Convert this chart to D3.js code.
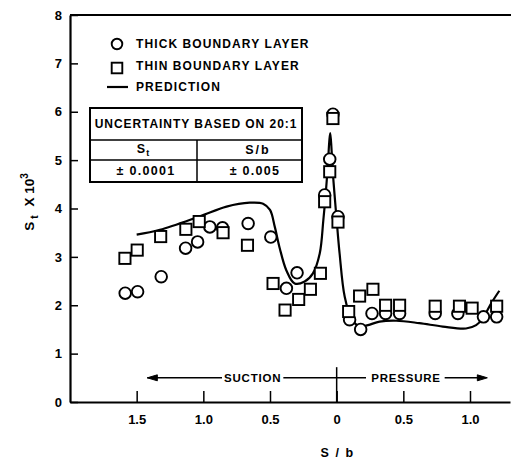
<!DOCTYPE html>
<html>
<head>
<meta charset="utf-8">
<script src="https://cdn.jsdelivr.net/npm/d3@7"></script>
<style>
  body { margin: 0; background: #fff; }
  text { font-family: "Liberation Sans", Arial, sans-serif; fill: #000; }
</style>
</head>
<body>
<div id="chart"></div>
<script>
// chart size
const width = 511, height = 462;

// data: s/b is signed, suction side negative (drawn as positive labels)
const thickS  = [-1.586, -1.493, -1.316, -1.133, -1.043, -0.951, -0.856, -0.664, -0.494, -0.377, -0.297, -0.09, -0.052, -0.028,
                 0.01, 0.097, 0.18, 0.265, 0.367, 0.472, 0.739, 0.909, 1.101, 1.20];
const thickSt = [2.25, 2.28, 2.59, 3.18, 3.31, 3.62, 3.60, 3.69, 3.41, 2.35, 2.67, 4.28, 5.02, 5.95,
                 3.83, 1.70, 1.50, 1.83, 1.83, 1.83, 1.83, 1.83, 1.76, 1.76];

const thinS  = [-1.588, -1.496, -1.32, -1.131, -1.031, -0.852, -0.669, -0.477, -0.387, -0.285, -0.197, -0.122, -0.09, -0.052, -0.028,
                0.01, 0.09, 0.172, 0.272, 0.367, 0.472, 0.739, 0.921, 1.016, 1.20];
const thinSt = [2.97, 3.14, 3.42, 3.57, 3.73, 3.50, 3.24, 2.45, 1.90, 2.12, 2.33, 2.66, 4.14, 4.76, 5.86,
                3.72, 1.87, 2.19, 2.33, 2.00, 2.00, 1.98, 1.98, 1.94, 1.98];

const predS  = [-1.50, -1.326, -1.026, -0.826, -0.652, -0.552, -0.50, -0.464, -0.427, -0.377, -0.315, -0.24, -0.178, -0.127, -0.10,
                -0.082, -0.065, -0.055, -0.048, -0.038, -0.028, 0.0, 0.022, 0.06, 0.11, 0.172, 0.235, 0.322, 0.447, 0.62,
                0.796, 0.97, 1.046, 1.096, 1.159, 1.22];
const predSt = [3.46, 3.56, 3.84, 4.04, 4.12, 4.10, 3.97, 3.62, 3.18, 2.72, 2.45, 2.49, 2.66, 3.07, 3.76,
                4.31, 4.95, 5.40, 5.56, 5.20, 4.72, 3.76, 3.07, 2.18, 1.73, 1.56, 1.59, 1.66, 1.68, 1.63,
                1.56, 1.52, 1.59, 1.73, 2.04, 2.30];

const xTicks = [-1.5, -1.0, -0.5, 0, 0.5, 1.0];
const yTicks = [0, 1, 2, 3, 4, 5, 6, 7, 8];
const legendLabels = ["THICK BOUNDARY LAYER", "THIN BOUNDARY LAYER", "PREDICTION"];
const tableTitle = "UNCERTAINTY BASED ON 20:1";
const tableCols = ["S/b"];
const tableVals = ["\u00B1 0.0001", "\u00B1 0.005"];

const x = d3.scaleLinear().domain([-2, 1.3]).range([70, 510]);
const y = d3.scaleLinear().domain([0, 8]).range([402, 15]);

const svg = d3.select("#chart").append("svg")
  .attr("width", width).attr("height", height);

// axes
const xAxis = svg.append("g")
  .attr("transform", `translate(0,${y(0)})`)
  .call(d3.axisBottom(x).tickValues(xTicks).tickSizeInner(-11).tickSizeOuter(0).tickPadding(10)
    .tickFormat(d => d === 0 ? "0" : d3.format(".1f")(Math.abs(d))));
xAxis.select(".domain").attr("stroke-width", 2.2);
xAxis.selectAll(".tick line").attr("stroke-width", 1.5);
xAxis.selectAll("text").attr("font-size", 13).attr("font-weight", "bold").attr("dy", "0.9em");

const yAxis = svg.append("g")
  .attr("transform", `translate(${x(-2)},0)`)
  .call(d3.axisLeft(y).tickValues(yTicks).tickSizeInner(-8).tickSizeOuter(0).tickPadding(8));
yAxis.select(".domain").attr("stroke-width", 2.2);
yAxis.selectAll(".tick line").attr("stroke-width", 1.5);
yAxis.selectAll("text").attr("font-size", 13).attr("font-weight", "bold");

// top border
svg.append("line")
  .attr("x1", x(-2)).attr("x2", width).attr("y1", y(8)).attr("y2", y(8))
  .attr("stroke", "#000").attr("stroke-width", 2);

// axis titles
svg.append("text").attr("x", x(0) + 1).attr("y", 457).attr("text-anchor", "middle")
  .attr("font-size", 12.5).attr("font-weight", "bold").attr("letter-spacing", 1.6).text("S / b");

const yl = svg.append("text").attr("transform", "translate(34,202) rotate(-90)")
  .attr("text-anchor", "middle").attr("font-size", 13.5).attr("font-weight", "bold");
yl.append("tspan").text("S");
yl.append("tspan").attr("font-size", 10).attr("dy", 4).attr("dx", 3).text("t");
yl.append("tspan").attr("dy", -4).attr("dx", 9).text("X  10");
yl.append("tspan").attr("font-size", 10).attr("dy", -6).text("3");

// suction / pressure annotation
const ay = y(0.5);
const ann = svg.append("g").attr("stroke", "#000").attr("stroke-width", 1.5);
ann.append("line").attr("x1", x(0)).attr("x2", x(0)).attr("y1", y(0.72)).attr("y2", y(0));
ann.append("line").attr("x1", x(-1.42)).attr("x2", x(-0.86)).attr("y1", ay).attr("y2", ay);
ann.append("line").attr("x1", x(-0.4)).attr("x2", x(0.22)).attr("y1", ay).attr("y2", ay);
ann.append("line").attr("x1", x(0.81)).attr("x2", x(1.1)).attr("y1", ay).attr("y2", ay);
ann.append("path").attr("fill", "#000").attr("stroke-width", 1)
  .attr("d", `M${x(-1.42)},${ay} l10,-3 l0,6 z`);
ann.append("path").attr("fill", "#000").attr("stroke-width", 1)
  .attr("d", `M${x(1.13)},${ay} l-10,-3 l0,6 z`);
svg.append("text").attr("x", x(-0.63)).attr("y", ay).attr("dy", "0.35em").attr("text-anchor", "middle")
  .attr("font-size", 11.5).attr("font-weight", "bold").attr("letter-spacing", 0.8).text("SUCTION");
svg.append("text").attr("x", x(0.52)).attr("y", ay).attr("dy", "0.35em").attr("text-anchor", "middle")
  .attr("font-size", 11.5).attr("font-weight", "bold").attr("letter-spacing", 0.8).text("PRESSURE");

// prediction line
const pred = predS.map((s, i) => [s, predSt[i]]);
svg.append("path").datum(pred)
  .attr("fill", "none").attr("stroke", "#000").attr("stroke-width", 2.2)
  .attr("d", d3.line().x(d => x(d[0])).y(d => y(d[1])).curve(d3.curveCatmullRom.alpha(0.5)));

// markers
const thick = thickS.map((s, i) => [s, thickSt[i]]);
const thin = thinS.map((s, i) => [s, thinSt[i]]);
svg.append("g").selectAll("circle").data(thick).join("circle")
  .attr("cx", d => x(d[0])).attr("cy", d => y(d[1])).attr("r", 5.8)
  .attr("fill", "#fff").attr("stroke", "#000").attr("stroke-width", 1.9);
svg.append("g").selectAll("rect").data(thin).join("rect")
  .attr("x", d => x(d[0]) - 5.6).attr("y", d => y(d[1]) - 5.6).attr("width", 11.2).attr("height", 11.2)
  .attr("fill", "#fff").attr("stroke", "#000").attr("stroke-width", 1.9);

// legend
const lg = svg.append("g");
lg.append("circle").attr("cx", 117).attr("cy", 44).attr("r", 5.3).attr("fill", "#fff").attr("stroke", "#000").attr("stroke-width", 1.9);
lg.append("rect").attr("x", 111.7).attr("y", 62.7).attr("width", 10.6).attr("height", 10.6).attr("fill", "#fff").attr("stroke", "#000").attr("stroke-width", 1.9);
lg.append("line").attr("x1", 107).attr("x2", 128).attr("y1", 87).attr("y2", 87).attr("stroke", "#000").attr("stroke-width", 2.2);
lg.selectAll("text").data(legendLabels).join("text")
  .attr("x", 136).attr("y", (d, i) => 44 + i * 21.5).attr("dy", "0.35em")
  .attr("font-size", 12).attr("font-weight", "bold").attr("letter-spacing", 1.1).text(d => d);

// uncertainty table
const tb = svg.append("g");
tb.append("rect").attr("x", 90).attr("y", 108).attr("width", 212).attr("height", 74)
  .attr("fill", "#fff").attr("stroke", "#000").attr("stroke-width", 2);
tb.append("line").attr("x1", 90).attr("x2", 302).attr("y1", 140).attr("y2", 140).attr("stroke", "#000").attr("stroke-width", 1.5);
tb.append("line").attr("x1", 90).attr("x2", 302).attr("y1", 160).attr("y2", 160).attr("stroke", "#000").attr("stroke-width", 1.5);
tb.append("line").attr("x1", 197).attr("x2", 197).attr("y1", 140).attr("y2", 182).attr("stroke", "#000").attr("stroke-width", 1.5);
tb.append("text").attr("x", 196).attr("y", 124).attr("dy", "0.35em").attr("text-anchor", "middle")
  .attr("font-size", 12).attr("font-weight", "bold").attr("letter-spacing", 0.95).text(tableTitle);
const st = tb.append("text").attr("x", 143).attr("y", 149).attr("dy", "0.35em").attr("text-anchor", "middle")
  .attr("font-size", 12.5).attr("font-weight", "bold");
st.append("tspan").text("S");
st.append("tspan").attr("font-size", 9).attr("dy", 3).attr("dx", 1).text("t");
tb.append("text").attr("x", 258).attr("y", 150).attr("dy", "0.35em").attr("text-anchor", "middle")
  .attr("font-size", 12.5).attr("font-weight", "bold").attr("letter-spacing", 2).text(tableCols[0]);
tb.selectAll("text.val").data(tableVals).join("text").attr("class", "val")
  .attr("x", (d, i) => i === 0 ? 146 : 255).attr("y", 171).attr("dy", "0.35em").attr("text-anchor", "middle")
  .attr("font-size", 12.5).attr("font-weight", "bold").attr("letter-spacing", 1.3).text(d => d);
</script>
</body>
</html>
